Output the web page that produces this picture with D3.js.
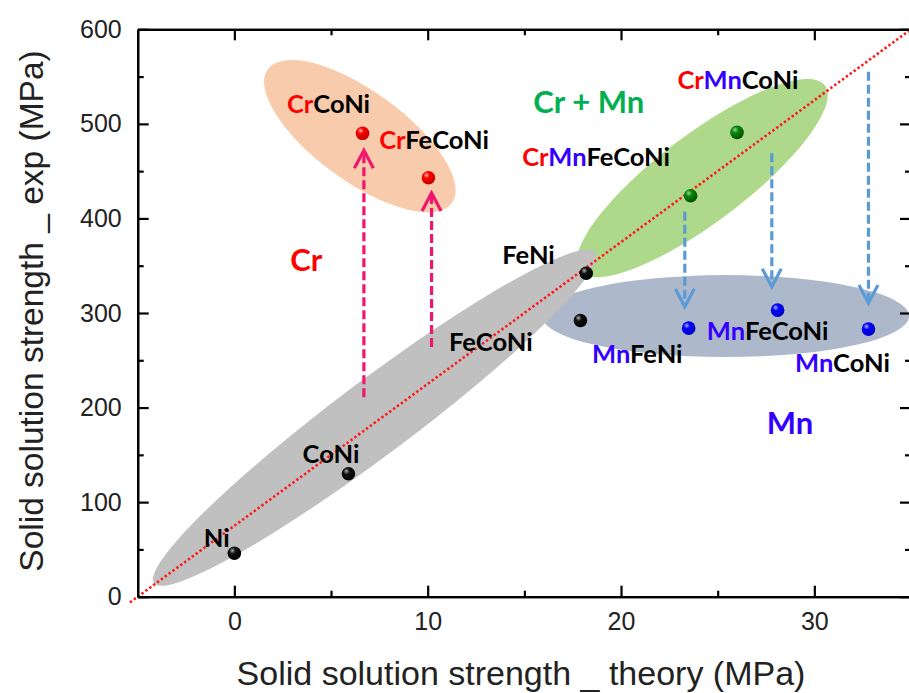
<!DOCTYPE html>
<html><head><meta charset="utf-8">
<script src="https://cdn.jsdelivr.net/npm/d3@7"></script>
<style>body{margin:0;background:#fff}</style>
</head><body><svg id="chart" width="909" height="693"></svg>
<script>
// ---------- data ----------
const xTicks = [0, 10, 20, 30];
const xMinorTicks = [5, 15, 25];
const yTicks = [0, 100, 200, 300, 400, 500, 600];
const yMinorTicks = [50, 150, 250, 350, 450, 550];

const alloys     = ["Ni", "CoNi", "FeNi", "FeCoNi", "CrCoNi", "CrFeCoNi", "CrMnCoNi", "CrMnFeCoNi", "MnFeNi", "MnFeCoNi", "MnCoNi"];
const theory     = [0, 5.9, 18.2, 17.9, 6.63, 10.04, 26.0, 23.6, 23.5, 28.1, 32.8];
const experiment = [46, 130, 342, 292, 490, 443, 491, 424, 284, 303, 283];
const pointGroup = ["base", "base", "base", "base", "cr", "cr", "crmn", "crmn", "mn", "mn", "mn"];
// label anchor (left, baseline) in data units
const labelX = [-1.58, 3.53, 13.86, 11.1, 2.72, 7.49, 22.92, 14.89, 18.5, 24.44, 29.0];
const labelY = [52.9, 141.0, 351.4, 260.0, 511.0, 472.9, 536.4, 455.3, 246.7, 271.4, 237.5];

// group regions: major-axis endpoints in data units
const regionKey   = ["cr", "crmn", "mn", "base"];
const regionStart = [[1.73, 557.8], [17.85, 344.6], [15.91, 296.7], [-4.15, 14.5]];
const regionEnd   = [[11.25, 416.2], [30.55, 540.6], [34.9, 296.7], [18.67, 364.3]];

// group titles
const groupTitle  = ["Cr", "Cr + Mn", "Mn"];
const groupTitleKey = ["cr", "crmn", "mn"];
const groupTitleX = [2.89, 15.46, 27.54];
const groupTitleY = [344.3, 511.6, 171.7];

// shift arrows
const arrowKey  = ["cr", "cr", "mn", "mn", "mn"];
const arrowX    = [6.7, 10.2, 23.3, 27.8, 32.8];
const arrowFrom = [211, 264, 407, 469, 555];
const arrowTo   = [472, 427, 306.5, 327.7, 310.5];

// y = x line
const diagX = [-5.4, 35.3];
const diagY = [-6, 604.5];

// ---------- styles ----------
const regionFill = {cr: "#f8cbad", crmn: "#aed88a", mn: "#adb9ca", base: "#c0c0c0"};
const regionHalfWidth = {cr: 45, crmn: 44, mn: 41, base: 37.5};
const arrowColor = {cr: "#f0166e", mn: "#5b9bd5"};
const titleColor = {cr: "#ff0000", crmn: "#00b050", mn: "#3300ff"};
const elemColor = {Cr: "#ff0000", Mn: "#3300ff"};
const sphere = {
  base: ["#b0b0b0", "#111", "#000"],
  cr:   ["#ffb0b0", "#ff0000", "#c00000"],
  crmn: ["#a0d0a0", "#0a8a0a", "#005000"],
  mn:   ["#b0b0ff", "#0000ff", "#0000c0"]
};

const svg = d3.select("#chart");
const x = d3.scaleLinear().domain([-5, 35]).range([137.7, 911]);
const y = d3.scaleLinear().domain([0, 600]).range([596.7, 29.3]);

// gradients
const defs = svg.append("defs");
Object.entries(sphere).forEach(([k, c]) => {
  const g = defs.append("radialGradient").attr("id", "sph-" + k)
    .attr("cx", "38%").attr("cy", "35%").attr("r", "65%").attr("fx", "35%").attr("fy", "30%");
  g.append("stop").attr("offset", "0%").attr("stop-color", c[0]);
  g.append("stop").attr("offset", "35%").attr("stop-color", c[1]);
  g.append("stop").attr("offset", "100%").attr("stop-color", c[2]);
});

// regions
regionKey.forEach((k, i) => {
  const x1 = x(regionStart[i][0]), y1 = y(regionStart[i][1]);
  const x2 = x(regionEnd[i][0]), y2 = y(regionEnd[i][1]);
  const cx = (x1 + x2) / 2, cy = (y1 + y2) / 2;
  const a = Math.hypot(x2 - x1, y2 - y1) / 2;
  const ang = Math.atan2(y2 - y1, x2 - x1) * 180 / Math.PI;
  svg.append("ellipse").attr("cx", cx).attr("cy", cy).attr("rx", a).attr("ry", regionHalfWidth[k])
    .attr("transform", `rotate(${ang},${cx},${cy})`).attr("fill", regionFill[k]);
});

// diagonal
svg.append("line").attr("x1", x(diagX[0])).attr("y1", y(diagY[0])).attr("x2", x(diagX[1])).attr("y2", y(diagY[1]))
  .attr("stroke", "#ff1a1a").attr("stroke-width", 2.6).attr("stroke-dasharray", "2.4 2.4");

// axes
const axG = svg.append("g");
function styleAxis(g) {
  g.selectAll(".domain").attr("stroke", "#000").attr("stroke-width", 2.2);
  g.selectAll(".tick line").attr("stroke", "#000").attr("stroke-width", 2.2);
  g.selectAll("text").attr("font-family", "'Liberation Sans', Arial, sans-serif").attr("font-size", 25).attr("fill", "#222");
}
axG.append("g").attr("transform", `translate(0,${y(0)})`)
  .call(d3.axisBottom(x).tickValues(xTicks).tickSize(-11).tickSizeOuter(0).tickPadding(16)).call(styleAxis);
axG.append("g").attr("transform", `translate(0,${y(0)})`)
  .call(d3.axisBottom(x).tickValues(xMinorTicks).tickSize(-6).tickSizeOuter(0).tickFormat("")).call(styleAxis);
axG.append("g").attr("transform", `translate(0,${y(600)})`)
  .call(d3.axisTop(x).tickValues(xTicks).tickSize(-11).tickSizeOuter(0).tickFormat("")).call(styleAxis);
axG.append("g").attr("transform", `translate(0,${y(600)})`)
  .call(d3.axisTop(x).tickValues(xMinorTicks).tickSize(-6).tickSizeOuter(0).tickFormat("")).call(styleAxis);
axG.append("g").attr("transform", `translate(${x(-5)},0)`)
  .call(d3.axisLeft(y).tickValues(yTicks).tickSize(-11).tickSizeOuter(0).tickPadding(16)).call(styleAxis);
axG.append("g").attr("transform", `translate(${x(-5)},0)`)
  .call(d3.axisLeft(y).tickValues(yMinorTicks).tickSize(-6).tickSizeOuter(0).tickFormat("")).call(styleAxis);
axG.append("g").attr("transform", `translate(${x(35)},0)`)
  .call(d3.axisRight(y).tickValues(yTicks).tickSize(-11).tickSizeOuter(0).tickFormat("")).call(styleAxis);
axG.append("g").attr("transform", `translate(${x(35)},0)`)
  .call(d3.axisRight(y).tickValues(yMinorTicks).tickSize(-6).tickSizeOuter(0).tickFormat("")).call(styleAxis);

// axis titles
svg.append("text").attr("x", 521).attr("y", 685).attr("text-anchor", "middle")
  .attr("font-family", "'Liberation Sans', Arial, sans-serif").attr("font-size", 34).attr("fill", "#222")
  .text("Solid solution strength _ theory (MPa)");
svg.append("text").attr("transform", `translate(43,311) rotate(-90)`).attr("text-anchor", "middle")
  .attr("font-family", "'Liberation Sans', Arial, sans-serif").attr("font-size", 33.5).attr("fill", "#222")
  .text("Solid solution strength _ exp (MPa)");

// arrows
arrowKey.forEach((k, i) => {
  const ax = x(arrowX[i]), y0 = y(arrowFrom[i]), y1 = y(arrowTo[i]);
  const dir = y1 < y0 ? 1 : -1; // 1 = pointing up
  svg.append("line").attr("x1", ax).attr("x2", ax).attr("y1", y0).attr("y2", y1 + dir * 2)
    .attr("stroke", arrowColor[k]).attr("stroke-width", 3.2).attr("stroke-dasharray", "9 4");
  svg.append("path").attr("d", `M${ax - 9.5},${y1 + dir * 18} L${ax},${y1} L${ax + 9.5},${y1 + dir * 18}`)
    .attr("fill", "none").attr("stroke", arrowColor[k]).attr("stroke-width", 3.2).attr("stroke-linejoin", "miter");
});

// points
svg.append("g").selectAll("circle").data(alloys).join("circle")
  .attr("cx", (d, i) => x(theory[i])).attr("cy", (d, i) => y(experiment[i])).attr("r", 6.8)
  .attr("fill", (d, i) => `url(#sph-${pointGroup[i]})`);

// alloy labels
const lab = svg.append("g").attr("font-family", "Lato, 'Open Sans', sans-serif").attr("font-weight", "bold").attr("font-size", 25.5);
alloys.forEach((name, i) => {
  const t = lab.append("text").attr("x", x(labelX[i])).attr("y", y(labelY[i]));
  (name.match(/Cr|Mn|Fe|Co|Ni/g)).forEach(el => {
    t.append("tspan").attr("fill", elemColor[el] || "#000").text(el);
  });
});

// group titles
groupTitle.forEach((g, i) => {
  svg.append("text").attr("x", x(groupTitleX[i])).attr("y", y(groupTitleY[i]))
    .attr("font-family", "Lato, 'Open Sans', sans-serif").attr("font-weight", "bold").attr("font-size", 31)
    .attr("fill", titleColor[groupTitleKey[i]]).text(g);
});
</script>
</body></html>
